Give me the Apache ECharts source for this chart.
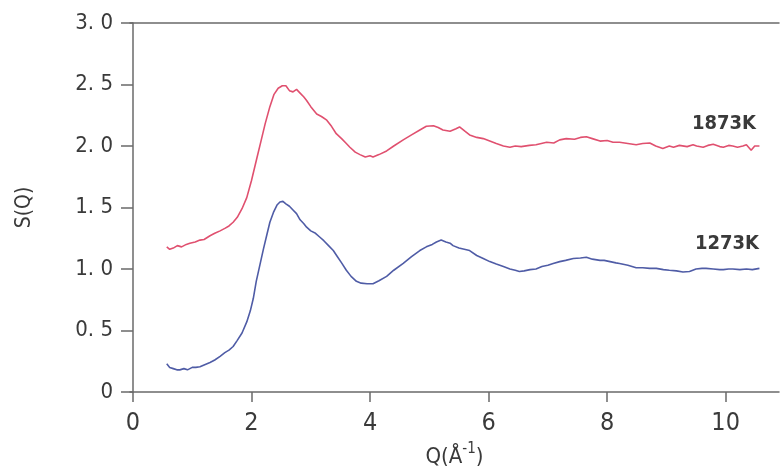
<!DOCTYPE html>
<html>
<head>
<meta charset="utf-8">
<title>S(Q)</title>
<script src="https://cdn.jsdelivr.net/npm/echarts@6/dist/echarts.min.js"></script>
<style>
  html, body { margin: 0; padding: 0; background: #fff; }
  #chart { width: 780px; height: 468px; }
</style>
</head>
<body>
<div id="chart"></div>
<script>
// 1873K curve (Q in 1/Angstrom, S(Q))
const q1873 = [0.57, 0.62, 0.68, 0.75, 0.82, 0.9, 0.96, 1.05, 1.13, 1.2, 1.3, 1.38, 1.47, 1.55, 1.62, 1.69, 1.76, 1.84, 1.92, 2.0,
  2.09, 2.16, 2.23, 2.31, 2.38, 2.45, 2.52, 2.58, 2.64, 2.7, 2.76, 2.82, 2.88, 2.93, 3.0, 3.1, 3.18, 3.27, 3.35, 3.43,
  3.52, 3.6, 3.66, 3.75, 3.83, 3.92, 4.0, 4.05, 4.15, 4.28, 4.4, 4.56, 4.7, 4.84, 4.95, 5.07, 5.15, 5.23, 5.35, 5.45,
  5.51, 5.6, 5.68, 5.8, 5.91, 6.02, 6.13, 6.25, 6.36, 6.45, 6.55, 6.69, 6.8, 6.98, 7.1, 7.2, 7.31, 7.45, 7.55, 7.65,
  7.75, 7.88, 8.0, 8.1, 8.21, 8.35, 8.49, 8.6, 8.72, 8.82, 8.94, 9.05, 9.12, 9.22, 9.35, 9.45, 9.51, 9.62, 9.7, 9.79,
  9.9, 9.96, 10.05, 10.12, 10.2, 10.29, 10.35, 10.43, 10.49, 10.52, 10.57];
const s1873 = [1.18, 1.16, 1.17, 1.19, 1.18, 1.2, 1.21, 1.22, 1.235, 1.24, 1.27, 1.29, 1.31, 1.33, 1.35, 1.38, 1.42, 1.49, 1.58, 1.72,
  1.9, 2.04, 2.18, 2.32, 2.42, 2.47, 2.49, 2.49, 2.45, 2.44, 2.46, 2.43, 2.4, 2.37, 2.32, 2.26, 2.24, 2.21, 2.16, 2.1,
  2.06, 2.02, 1.99, 1.95, 1.93, 1.91, 1.92, 1.91, 1.93, 1.96, 2.0, 2.05, 2.09, 2.13, 2.16, 2.165, 2.15, 2.13, 2.12, 2.14,
  2.155, 2.12, 2.09, 2.07, 2.06, 2.04, 2.02, 2.0, 1.99, 2.0, 1.995, 2.005, 2.01, 2.03, 2.025, 2.05, 2.06, 2.055, 2.07, 2.075,
  2.06, 2.04, 2.045, 2.03, 2.03, 2.02, 2.01, 2.02, 2.025, 2.0, 1.98, 2.0, 1.99, 2.005, 1.995, 2.01, 2.0, 1.99, 2.005, 2.015,
  1.995, 1.99, 2.005, 2.0, 1.99, 2.0, 2.01, 1.965, 2.0, 2.01, 2.0];

// 1273K curve
const q1273 = [0.57, 0.62, 0.68, 0.74, 0.79, 0.86, 0.92, 1.0, 1.06, 1.13, 1.2, 1.3, 1.38, 1.47, 1.55, 1.62, 1.69, 1.76, 1.84, 1.92,
  1.98, 2.03, 2.08, 2.14, 2.2, 2.26, 2.31, 2.37, 2.43, 2.48, 2.53, 2.58, 2.64, 2.7, 2.76, 2.82, 2.88, 2.93, 3.0, 3.08,
  3.15, 3.22, 3.3, 3.38, 3.45, 3.52, 3.6, 3.68, 3.77, 3.85, 3.95, 4.05, 4.15, 4.28, 4.4, 4.56, 4.7, 4.84, 4.95, 5.05,
  5.12, 5.2, 5.28, 5.35, 5.4, 5.5, 5.68, 5.8, 5.91, 6.02, 6.13, 6.25, 6.36, 6.45, 6.52, 6.6, 6.7, 6.8, 6.9, 7.0,
  7.09, 7.2, 7.3, 7.43, 7.55, 7.65, 7.75, 7.88, 7.95, 8.05, 8.15, 8.21, 8.35, 8.49, 8.6, 8.72, 8.83, 8.95, 9.05, 9.17,
  9.28, 9.39, 9.5, 9.6, 9.67, 9.79, 9.9, 9.96, 10.05, 10.12, 10.24, 10.35, 10.45, 10.57];
const s1273 = [0.23, 0.2, 0.19, 0.18, 0.18, 0.19, 0.18, 0.2, 0.2, 0.205, 0.22, 0.24, 0.26, 0.29, 0.32, 0.34, 0.37, 0.42, 0.48, 0.57,
  0.66, 0.76, 0.9, 1.03, 1.16, 1.28, 1.38, 1.46, 1.52, 1.545, 1.55, 1.53, 1.51, 1.48, 1.45, 1.4, 1.37, 1.34, 1.31, 1.29,
  1.26, 1.23, 1.19, 1.15, 1.1, 1.05, 0.99, 0.94, 0.9, 0.885, 0.88, 0.88, 0.905, 0.94, 0.99, 1.045, 1.1, 1.15, 1.18, 1.2,
  1.22, 1.235, 1.22, 1.21, 1.19, 1.17, 1.15, 1.11, 1.085, 1.06, 1.04, 1.02, 1.0, 0.99, 0.98, 0.985, 0.995, 1.0, 1.02, 1.03,
  1.045, 1.06, 1.07, 1.085, 1.09, 1.095, 1.08, 1.07, 1.07, 1.06, 1.05, 1.045, 1.03, 1.01, 1.01, 1.005, 1.005, 0.995, 0.99, 0.985,
  0.975, 0.98, 1.0, 1.005, 1.005, 1.0, 0.995, 0.995, 1.0, 1.0, 0.995, 1.0, 0.995, 1.005];

const xTicks = [0, 2, 4, 6, 8, 10];
const yTicks = { 0: "0", 0.5: "0. 5", 1: "1. 0", 1.5: "1. 5", 2: "2. 0", 2.5: "2. 5", 3: "3. 0" };

const FONT = "'DejaVu Sans Condensed', 'Liberation Sans', sans-serif";
const AXIS_COLOR = "#6a6a6a";
const TEXT_COLOR = "#3a3a3a";

const pairs = (xs, ys) => xs.map((x, i) => [x, ys[i]]);

const chart = echarts.init(document.getElementById("chart"), null, { renderer: "canvas" });

chart.setOption({
  animation: false,
  backgroundColor: "#ffffff",
  grid: { left: 130, right: 1, top: 23, bottom: 76, containLabel: false, outerBoundsMode: "none" },
  xAxis: [
    {
      type: "value",
      min: -0.05,
      max: 10.9,
      splitLine: { show: false },
      axisLine: { lineStyle: { color: AXIS_COLOR, width: 1.5 } },
      axisTick: {
        length: 10,
        customValues: xTicks,
        lineStyle: { color: AXIS_COLOR, width: 1.5 },
      },
      axisLabel: {
        margin: 19,
        fontSize: 25,
        fontFamily: FONT,
        color: TEXT_COLOR,
        customValues: xTicks,
      },
      name: "{a|Q(Å}{sup|-1}{a|)}",
      nameLocation: "middle",
      nameGap: 44,
      nameTextStyle: {
        rich: {
          a: { fontSize: 22, fontFamily: FONT, color: TEXT_COLOR, padding: [10, 0, 0, 0] },
          sup: { fontSize: 15, fontFamily: FONT, color: TEXT_COLOR, padding: [0, 0, 6, 0] },
        },
      },
    },
    {
      type: "value",
      position: "top",
      min: -0.05,
      max: 10.9,
      axisLine: { show: true, lineStyle: { color: AXIS_COLOR, width: 1.5 } },
      axisTick: { show: false },
      axisLabel: { show: false },
      splitLine: { show: false },
    },
  ],
  yAxis: {
    type: "value",
    min: 0,
    max: 3,
    interval: 0.5,
    splitLine: { show: false },
    axisLine: { show: true, lineStyle: { color: AXIS_COLOR, width: 1.5 } },
    axisTick: { show: true, length: 12, lineStyle: { color: AXIS_COLOR, width: 1.5 } },
    axisLabel: {
      margin: 17,
      fontSize: 22,
      fontFamily: FONT,
      color: TEXT_COLOR,
      formatter: (v) => yTicks[v] ?? "",
    },
    name: "S(Q)",
    nameLocation: "middle",
    nameGap: 95,
    nameTextStyle: { fontSize: 21, fontFamily: FONT, color: TEXT_COLOR },
  },
  series: [
    {
      name: "1873K",
      type: "line",
      data: pairs(q1873, s1873),
      showSymbol: false,
      lineStyle: { color: "#e0506f", width: 1.6 },
      itemStyle: { color: "#e0506f" },
    },
    {
      name: "1273K",
      type: "line",
      data: pairs(q1273, s1273),
      showSymbol: false,
      lineStyle: { color: "#4f5ca6", width: 1.6 },
      itemStyle: { color: "#4f5ca6" },
    },
  ],
  graphic: [
    {
      type: "text",
      left: 692,
      top: 114,
      style: { text: "1873K", font: "bold 20px " + FONT, fill: TEXT_COLOR },
    },
    {
      type: "text",
      left: 695,
      top: 234,
      style: { text: "1273K", font: "bold 20px " + FONT, fill: TEXT_COLOR },
    },
  ],
});

window.onresize = chart.resize;
</script>
</body>
</html>
